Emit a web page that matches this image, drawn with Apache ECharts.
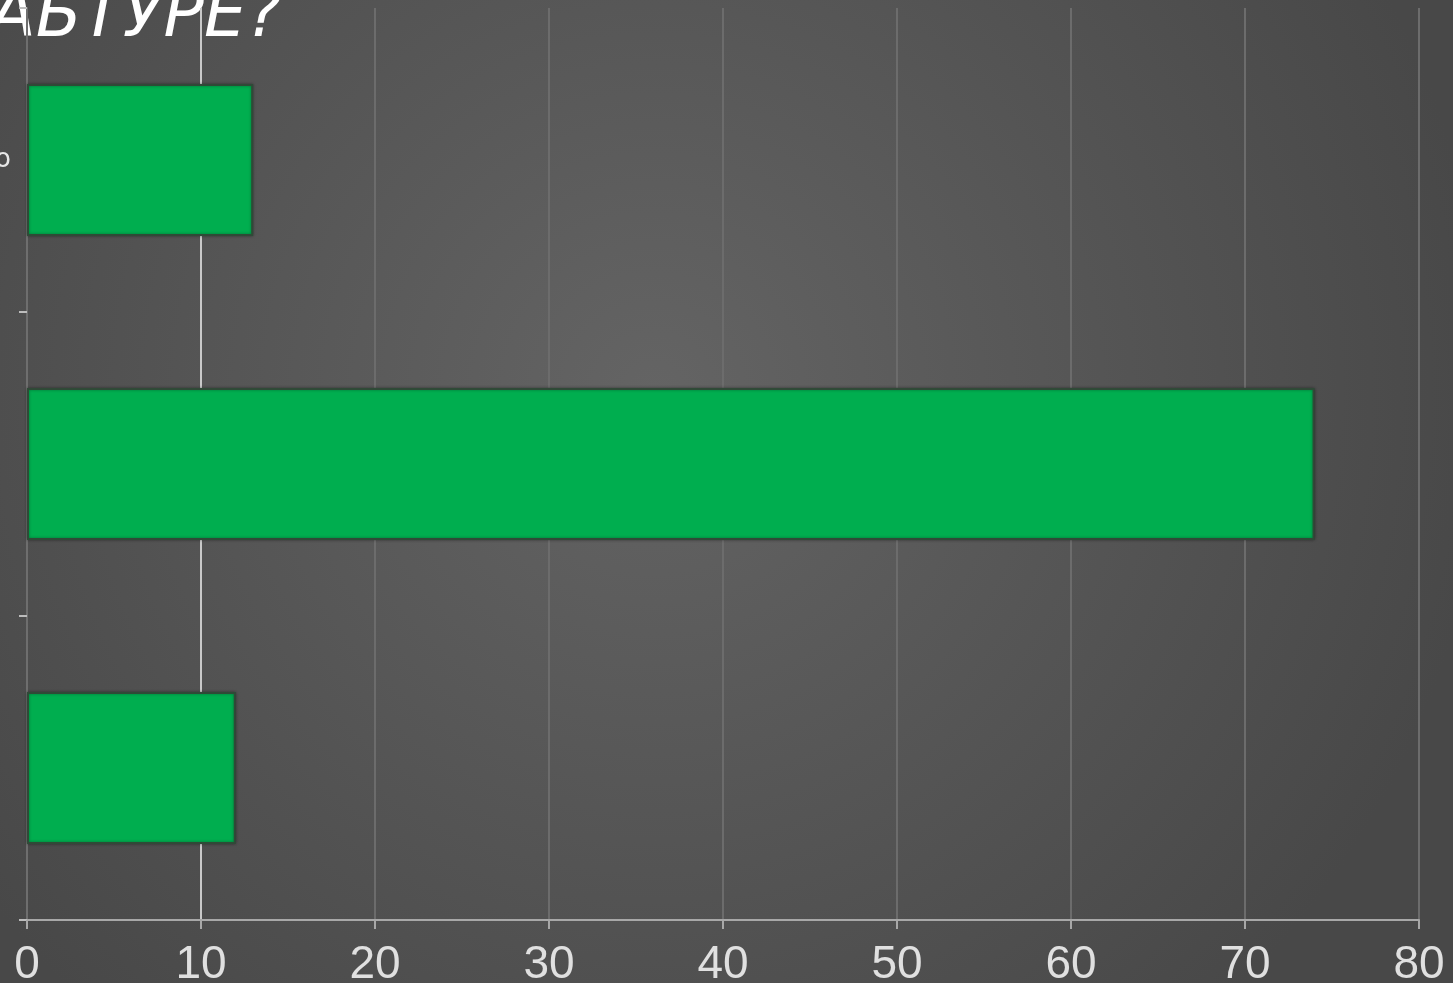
<!DOCTYPE html>
<html>
<head>
<meta charset="utf-8">
<title>chart</title>
<script src="https://cdn.jsdelivr.net/npm/echarts@6/dist/echarts.min.js"></script>
<style>
  html, body { margin: 0; padding: 0; background: #505050; }
  #main { width: 1453px; height: 983px; }
</style>
</head>
<body>
<div id="main"></div>
<script>
// данные (снизу вверх, как в category оси)
var categories = ['', '', 'о'];
var values = [12, 74, 13];
var xTicks = [0, 10, 20, 30, 40, 50, 60, 70, 80];
var titleText = 'АБТУРЕ?';

var myChart = echarts.init(document.getElementById('main'));

// линия сетки на 10 светлее остальных
var gridColors = xTicks.map(function (t) { return t === 10 ? '#c9c9c9' : '#6c6c6c'; });

myChart.setOption({
    backgroundColor: {
        type: 'radial', x: 0.45, y: 0.4, r: 0.85,
        colorStops: [
            { offset: 0, color: '#646464' },
            { offset: 1, color: '#484848' }
        ]
    },
    graphic: [{
        type: 'text',
        left: -10,
        top: -15,
        style: {
            text: titleText,
            fill: '#ffffff',
            font: 'italic 500 67px "DejaVu Sans"'
        }
    }],
    grid: { left: 27, right: 34, top: 8, bottom: 63, outerBoundsMode: 'none' },
    xAxis: {
        type: 'value',
        min: 0,
        max: 80,
        interval: 10,
        axisLine: { show: true, lineStyle: { color: '#a8a8a8', width: 2 } },
        axisTick: { show: true, length: 9, lineStyle: { color: '#a8a8a8', width: 2 } },
        axisLabel: {
            color: '#e0e0e0',
            fontSize: 46,
            fontFamily: 'Liberation Sans',
            margin: 22
        },
        splitLine: { show: true, lineStyle: { color: gridColors, width: 2 } }
    },
    yAxis: {
        type: 'category',
        data: categories,
        axisLine: { show: true, lineStyle: { color: '#6e6e6e', width: 2 } },
        axisTick: { show: true, length: 8, lineStyle: { color: '#bdbdbd', width: 2 } },
        axisLabel: {
            color: '#e6e6e6', fontSize: 26, fontFamily: 'DejaVu Sans',
            margin: 16, padding: [14, 0, 0, 0]
        }
    },
    series: [{
        type: 'bar',
        data: values,
        barWidth: '50%',
        itemStyle: {
            color: '#00ae4f',
            borderColor: '#2f4a37',
            borderWidth: 2,
            shadowColor: 'rgba(0,0,0,0.35)',
            shadowBlur: 3
        },
        silent: true
    }]
});
</script>
</body>
</html>
